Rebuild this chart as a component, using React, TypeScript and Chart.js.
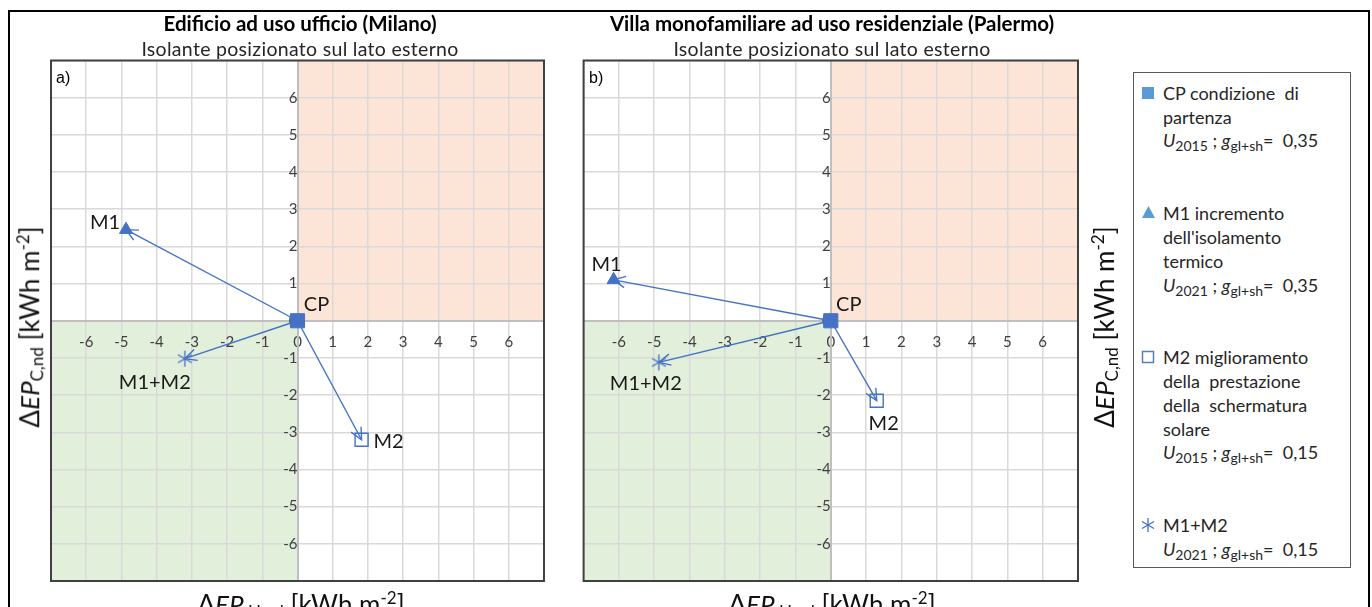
import React, { useEffect, useRef } from 'react';
import { Chart, registerables } from 'chart.js';

Chart.register(...registerables);

// ---------- data ----------
const pointNames = ['CP', 'M1', 'M2', 'M1+M2'];
const milanoDeltaH = [0, -4.87, 1.82, -3.2];
const milanoDeltaC = [0, 2.45, -3.2, -1.02];
const palermoDeltaH = [0, -6.15, 1.3, -4.87];
const palermoDeltaC = [0, 1.1, -2.15, -1.12];
const axisMin = -7;
const axisMax = 7;
const tickStep = 1;
const hiddenTicks = [-7, 7];

const panelTitles = ['Edificio ad uso ufficio (Milano)', 'Villa monofamiliare ad uso residenziale (Palermo)'];
const panelSubtitle = 'Isolante posizionato sul lato esterno';
const panelTags = ['a)', 'b)'];

// ---------- styles ----------
const FONT = 'Lato, "Open Sans", sans-serif';
const BLUE = '#4472C4';
const LEG_BLUE = '#5B9BD5';

const labelOffsetsA: Record<string, [number, number]> = {
  CP: [19, -16],
  M1: [-21, -7],
  M2: [27, 2],
  'M1+M2': [-30, 24],
};
const labelOffsetsB: Record<string, [number, number]> = {
  CP: [18, -16],
  M1: [-7, -15],
  M2: [7, 23],
  'M1+M2': [-13, 21],
};

function makeAsterisk(color: string, size: number): HTMLCanvasElement {
  const c = document.createElement('canvas');
  c.width = size;
  c.height = size;
  const g = c.getContext('2d')!;
  g.strokeStyle = color;
  g.lineWidth = 1.3;
  const cx = size / 2;
  const cy = size / 2;
  const r = size / 2 - 1;
  [90, 30, 150].forEach((deg) => {
    const a = (deg * Math.PI) / 180;
    g.beginPath();
    g.moveTo(cx - Math.cos(a) * r, cy - Math.sin(a) * r);
    g.lineTo(cx + Math.cos(a) * r, cy + Math.sin(a) * r);
    g.stroke();
  });
  return c;
}

function markerStyle(name: string, asterisk: HTMLCanvasElement) {
  switch (name) {
    case 'CP':
      return { pointStyle: 'rect', pointRadius: 10, backgroundColor: BLUE, borderColor: BLUE, borderWidth: 1 };
    case 'M1':
      return { pointStyle: 'triangle', pointRadius: 7.5, backgroundColor: BLUE, borderColor: BLUE, borderWidth: 1 };
    case 'M2':
      return { pointStyle: 'rect', pointRadius: 9.2, backgroundColor: 'rgba(0,0,0,0)', borderColor: BLUE, borderWidth: 1.4 };
    default:
      return { pointStyle: asterisk, pointRadius: 9, backgroundColor: BLUE, borderColor: BLUE, borderWidth: 1 };
  }
}

function buildDatasets(xs: number[], ys: number[], asterisk: HTMLCanvasElement) {
  const markers = pointNames.map((name, i) => ({
    label: name,
    data: [{ x: xs[i], y: ys[i] }],
    labelName: name,
    ...markerStyle(name, asterisk),
  }));
  const arrows = pointNames.slice(1).map((name, k) => ({
    label: 'arrow ' + name,
    data: [
      { x: xs[0], y: ys[0] },
      { x: xs[k + 1], y: ys[k + 1] },
    ],
    showLine: true,
    pointRadius: 0,
    borderColor: BLUE,
    backgroundColor: BLUE,
    borderWidth: 1.4,
    tension: 0,
    isArrow: true,
  }));
  return [...markers, ...arrows];
}

const quadrantPlugin = {
  id: 'quadrants',
  beforeDraw(chart: any) {
    const { ctx, chartArea: a, scales } = chart;
    const x0 = scales.x.getPixelForValue(0);
    const y0 = scales.y.getPixelForValue(0);
    ctx.save();
    ctx.fillStyle = '#ffffff';
    ctx.fillRect(a.left, a.top, a.right - a.left, a.bottom - a.top);
    ctx.fillStyle = '#FCE4D6';
    ctx.fillRect(x0, a.top, a.right - x0, y0 - a.top);
    ctx.fillStyle = '#E2EFDA';
    ctx.fillRect(a.left, y0, x0 - a.left, a.bottom - y0);
    ctx.restore();
  },
};

const framePlugin = {
  id: 'frame',
  afterDraw(chart: any) {
    const { ctx, chartArea: a } = chart;
    ctx.save();
    ctx.strokeStyle = '#404040';
    ctx.lineWidth = 2;
    ctx.strokeRect(a.left, a.top, a.right - a.left, a.bottom - a.top);
    ctx.restore();
  },
};

const arrowPlugin = {
  id: 'arrowHeads',
  afterDatasetsDraw(chart: any) {
    const { ctx } = chart;
    chart.data.datasets.forEach((ds: any, i: number) => {
      if (!ds.isArrow) return;
      const meta = chart.getDatasetMeta(i);
      const p0 = meta.data[0];
      const p1 = meta.data[1];
      const ang = Math.atan2(p1.y - p0.y, p1.x - p0.x);
      const len = 13;
      const spread = (26 * Math.PI) / 180;
      ctx.save();
      ctx.strokeStyle = BLUE;
      ctx.lineWidth = 1.4;
      ctx.beginPath();
      ctx.moveTo(p1.x - len * Math.cos(ang - spread), p1.y - len * Math.sin(ang - spread));
      ctx.lineTo(p1.x, p1.y);
      ctx.lineTo(p1.x - len * Math.cos(ang + spread), p1.y - len * Math.sin(ang + spread));
      ctx.stroke();
      ctx.restore();
    });
  },
};

function makeLabelPlugin(offsets: Record<string, [number, number]>) {
  return {
    id: 'pointNames',
    afterDraw(chart: any) {
      const { ctx } = chart;
      ctx.save();
      ctx.font = `20px ${FONT}`;
      ctx.fillStyle = '#1a1a1a';
      ctx.textAlign = 'center';
      ctx.textBaseline = 'middle';
      chart.data.datasets.forEach((ds: any, i: number) => {
        if (!ds.labelName) return;
        const el = chart.getDatasetMeta(i).data[0];
        const off = offsets[ds.labelName] || [0, 0];
        ctx.fillText(ds.labelName, el.x + off[0], el.y + off[1]);
      });
      ctx.restore();
    },
  };
}

function axisConfig(pos: any) {
  return {
    type: 'linear',
    min: axisMin,
    max: axisMax,
    position: pos,
    ticks: {
      stepSize: tickStep,
      autoSkip: false,
      maxRotation: 0,
      padding: 12,
      color: '#404040',
      font: { family: FONT, size: 15 },
      callback: (v: number) => (hiddenTicks.includes(v) ? '' : String(v)),
    },
    grid: { color: '#d9d9d9', lineWidth: 1.5, drawTicks: false },
    border: { color: '#bfbfbf', width: 2 },
  };
}

type PanelProps = {
  xs: number[];
  ys: number[];
  offsets: Record<string, [number, number]>;
  left: number;
  width: number;
  padding: { left: number; right: number; top: number; bottom: number };
};

function Panel({ xs, ys, offsets, left, width, padding }: PanelProps) {
  const ref = useRef<HTMLCanvasElement>(null);
  const height = 597;
  useEffect(() => {
    if (!ref.current) return;
    const asterisk = makeAsterisk(BLUE, 18);
    const chart = new Chart(ref.current, {
      type: 'scatter',
      data: { datasets: buildDatasets(xs, ys, asterisk) as any },
      options: {
        animation: false,
        responsive: false,
        maintainAspectRatio: false,
        layout: { padding },
        plugins: {
          legend: { display: false },
          tooltip: { enabled: false },
          title: { display: false },
        },
        scales: {
          x: axisConfig({ y: 0 }) as any,
          y: axisConfig({ x: 0 }) as any,
        },
      },
      plugins: [quadrantPlugin, arrowPlugin, makeLabelPlugin(offsets), framePlugin],
    });
    return () => chart.destroy();
  }, []);
  return (
    <canvas
      ref={ref}
      width={width}
      height={height}
      style={{ position: 'absolute', left, top: 10, width, height, display: 'block' }}
    />
  );
}

const abs = (s: React.CSSProperties): React.CSSProperties => ({ position: 'absolute', whiteSpace: 'nowrap', ...s });

function TitleContent({ sub }: { sub: string }) {
  return (
    <>
      Δ<i>EP</i>
      <span style={{ fontSize: 17, verticalAlign: '-0.2em' }}>{sub}</span> [kWh m
      <span style={{ fontSize: 17, verticalAlign: '0.6em' }}>-2</span>]
    </>
  );
}

function AxisTitleY({ cx, cy }: { cx: number; cy: number }) {
  return (
    <div
      style={abs({
        left: cx,
        top: cy,
        transform: 'translate(-50%, -50%) rotate(-90deg)',
        fontFamily: FONT,
        fontSize: 26,
        lineHeight: '32px',
        color: '#111',
      })}
    >
      <TitleContent sub="C,nd" />
    </div>
  );
}

function AxisTitleX({ cx, top }: { cx: number; top: number }) {
  return (
    <div
      style={abs({
        left: cx,
        top,
        transform: 'translateX(-50%)',
        fontFamily: FONT,
        fontSize: 26,
        lineHeight: '32px',
        color: '#111',
      })}
    >
      <TitleContent sub=" H,nd" />
    </div>
  );
}

function Formula({ u, g }: { u: string; g: string }) {
  const sub: React.CSSProperties = { fontSize: 14, verticalAlign: '-0.3em', lineHeight: 0 };
  return (
    <span>
      <i>U</i>
      <span style={sub}>{u}</span> ; <i>g</i>
      <span style={sub}>gl+sh</span>= &nbsp;{g}
    </span>
  );
}

function LegendLine({ y, children }: { y: number; children: React.ReactNode }) {
  return (
    <div style={abs({ left: 1163, top: y - 12, height: 24, lineHeight: '24px', fontFamily: FONT, fontSize: 18, color: '#262626' })}>
      {children}
    </div>
  );
}

function Legend() {
  return (
    <>
      <div
        style={abs({
          left: 1133,
          top: 72,
          width: 216,
          height: 494,
          border: '1.5px solid #595959',
          background: '#fff',
        })}
      />
      <svg style={abs({ left: 1141, top: 86 })} width={14} height={14}>
        <rect x={1} y={1} width={12} height={12} fill={LEG_BLUE} />
      </svg>
      <LegendLine y={93}>CP condizione&nbsp; di</LegendLine>
      <LegendLine y={117}>partenza</LegendLine>
      <LegendLine y={140}>
        <Formula u="2015" g="0,35" />
      </LegendLine>

      <svg style={abs({ left: 1141, top: 205 })} width={15} height={14}>
        <polygon points="7.5,1 14,13 1,13" fill={LEG_BLUE} />
      </svg>
      <LegendLine y={213}>M1 incremento</LegendLine>
      <LegendLine y={237}>dell'isolamento</LegendLine>
      <LegendLine y={261}>termico</LegendLine>
      <LegendLine y={285}>
        <Formula u="2021" g="0,35" />
      </LegendLine>

      <svg style={abs({ left: 1141, top: 350 })} width={14} height={14}>
        <rect x={1.5} y={1.5} width={11} height={11} fill="none" stroke="#5B7FB0" strokeWidth={1.5} />
      </svg>
      <LegendLine y={357}>M2 miglioramento</LegendLine>
      <LegendLine y={381}>della&nbsp; prestazione</LegendLine>
      <LegendLine y={405}>della&nbsp; schermatura</LegendLine>
      <LegendLine y={429}>solare</LegendLine>
      <LegendLine y={452}>
        <Formula u="2015" g="0,15" />
      </LegendLine>

      <svg style={abs({ left: 1140, top: 517 })} width={16} height={16}>
        <line x1={8} y1={1} x2={8} y2={15} stroke={BLUE} strokeWidth={1.3} />
        <line x1={2} y1={4.5} x2={14} y2={11.5} stroke={BLUE} strokeWidth={1.3} />
        <line x1={2} y1={11.5} x2={14} y2={4.5} stroke={BLUE} strokeWidth={1.3} />
      </svg>
      <LegendLine y={525}>M1+M2</LegendLine>
      <LegendLine y={549}>
        <Formula u="2021" g="0,15" />
      </LegendLine>
    </>
  );
}

function PanelHeader({ cx, title }: { cx: number; title: string }) {
  return (
    <>
      <div
        style={abs({
          left: cx,
          top: 23,
          transform: 'translate(-50%, -50%)',
          fontFamily: FONT,
          fontWeight: 700,
          fontSize: 20.5,
          color: '#000',
        })}
      >
        {title}
      </div>
      <div
        style={abs({
          left: cx,
          top: 48,
          transform: 'translate(-50%, -50%)',
          fontFamily: FONT,
          fontSize: 19.5,
          letterSpacing: 0.3,
          color: '#262626',
        })}
      >
        {panelSubtitle}
      </div>
    </>
  );
}

export default function App() {
  return (
    <div style={{ position: 'absolute', left: 0, top: 0, width: 1372, height: 607, overflow: 'hidden', background: '#fff' }}>
      <div style={abs({ left: 8, top: 10, width: 1358, height: 640, border: '2px solid #000' })} />
      <Panel
        xs={milanoDeltaH}
        ys={milanoDeltaC}
        offsets={labelOffsetsA}
        left={8}
        width={548}
        padding={{ left: 43, right: 6, top: 50.5, bottom: 26 }}
      />
      <Panel
        xs={palermoDeltaH}
        ys={palermoDeltaC}
        offsets={labelOffsetsB}
        left={560}
        width={530}
        padding={{ left: 23.6, right: 10, top: 50.5, bottom: 26 }}
      />
      <PanelHeader cx={300} title={panelTitles[0]} />
      <PanelHeader cx={832} title={panelTitles[1]} />
      <div style={abs({ left: 56, top: 69, fontFamily: 'Arial, "Liberation Sans", sans-serif', fontSize: 16, color: '#000' })}>
        {panelTags[0]}
      </div>
      <div style={abs({ left: 589, top: 69, fontFamily: 'Arial, "Liberation Sans", sans-serif', fontSize: 16, color: '#000' })}>
        {panelTags[1]}
      </div>
      <AxisTitleY cx={30} cy={327} />
      <AxisTitleY cx={1105} cy={327} />
      <AxisTitleX cx={301} top={582} />
      <AxisTitleX cx={832} top={582} />
      <Legend />
    </div>
  );
}
